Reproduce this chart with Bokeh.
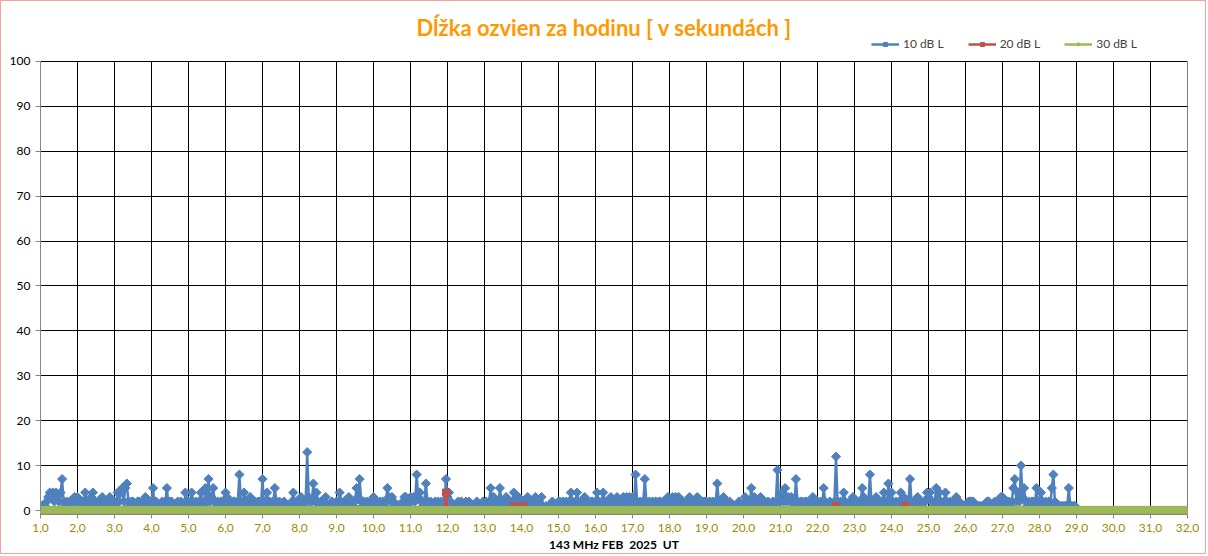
import math
from bokeh.plotting import figure
from bokeh.models import FixedTicker, Legend, LegendItem, Label, Range1d
from bokeh.embed import file_html
from bokeh.resources import INLINE

# ---------------- data ----------------
# hourly values (seconds) for the 10 dB L series, one string per day (24 hours),
# characters are hex digits (a=10, b=11, c=12, d=13)
blue_days = [
    "011123 434243 247212 122232",  # 1
    "312224 212342 121232 212312",  # 2
    "214245 256212 211221 213212",  # 3
    "251211 121251 221112 121142",  # 4
    "214212 124215 272352 121212",  # 5
    "431212 212821 421231 121221",  # 6
    "712412 125212 112111 124121",  # 7
    "23212d 322624 212123 111211",  # 8
    "214212 123121 253721 212121",  # 9
    "312121 212532 321010 123312",  # 10
    "323283 421262 121121 212127",  # 11
    "342111 121211 212111 121112",  # 12
    "121252 312152 123121 242131",  # 13
    "212131 212312 131010 112111",  # 14
    "221212 124212 421213 121221",  # 15
    "242124 212131 213211 323132",  # 16
    "318212 127212 121212 212123",  # 17
    "213231 321212 132121 312122",  # 18
    "212121 262123 121211 111211",  # 19
    "131215 231213 212121 121292",  # 20
    "242523 232172 122122 121312",  # 21
    "212152 112112 c21214 211213",  # 22
    "212125 321282 123121 242162",  # 23
    "421212 423212 721213 121224",  # 24
    "342125 242124 212121 312101",  # 25
    "102222 111111 112211 121213",  # 26
    "321221 257242 a35212 122152",  # 27
    "242121 215821 111111 151111",  # 28
]
blue_last = 0  # value at 29,0

# 20 dB L: non-zero hours (day, hour, value); all other hours are 0
red_day = [11, 13, 14, 22, 24]
red_hour = [23, 19, 1, 12, 9]
red_val = [4, 1, 1, 1, 1]

# 30 dB L: all hours 0
green_const = 0

first_day = 1
last_day = 32
x_ticks = list(range(1, 33))
y_ticks = list(range(0, 101, 10))
series_names = ["10 dB L", "20 dB L", "30 dB L"]
title_text = "D\u013a\u017eka ozvien za hodinu [ v sekund\u00e1ch ]"
x_title = "143 MHz FEB\u00a0 2025\u00a0 UT"

# ---------------- build series ----------------
blue_y = []
for d in blue_days:
    blue_y += [int(ch, 16) for ch in d.replace(" ", "")]
blue_y.append(blue_last)
blue_x = [first_day + i / 24 for i in range(len(blue_y))]

n_all = (last_day - first_day) * 24 + 1
all_x = [first_day + i / 24 for i in range(n_all)]
red_y = [0] * n_all
for d, h, v in zip(red_day, red_hour, red_val):
    red_y[(d - first_day) * 24 + h] = v
green_y = [green_const] * n_all

BLUE = "#4F81BD"
RED = "#C0504D"
GREEN = "#9BBB59"
FONT = "Lato"

Y_MIN = y_ticks[0]
Y_MAX = y_ticks[-1]
p = figure(width=1206, height=554, output_backend="svg", toolbar_location=None,
           title=None,
           x_range=Range1d(first_day, last_day), y_range=Range1d(-0.89, 112.47),
           min_border_left=39, min_border_right=20, min_border_top=4,
           min_border_bottom=41)
p.styles = {"border": "1px solid #F4A3A3"}
p.outline_line_color = None
p.background_fill_color = "white"
p.border_fill_color = "white"

# grid: horizontal lines via the grid, vertical lines limited to 0..100
p.xgrid.grid_line_color = None
p.ygrid.ticker = FixedTicker(ticks=y_ticks)
p.ygrid.grid_line_color = "black"
p.ygrid.grid_line_width = 1
p.segment(x0=x_ticks[1:], y0=[Y_MIN] * (len(x_ticks) - 1),
          x1=x_ticks[1:], y1=[Y_MAX] * (len(x_ticks) - 1),
          line_color="black", line_width=1, level="underlay")

# axes
p.xaxis.ticker = FixedTicker(ticks=x_ticks)
p.xaxis.major_label_overrides = {t: f"{t},0" for t in x_ticks}
p.xaxis.major_label_text_color = "#A08C00"
p.yaxis.ticker = FixedTicker(ticks=y_ticks)
p.yaxis.bounds = (Y_MIN, Y_MAX)
for ax in (p.xaxis, p.yaxis):
    ax.axis_line_color = "#868686"
    ax.major_tick_line_color = "#868686"
    ax.minor_tick_line_color = None
    ax.major_tick_in = 0
    ax.major_label_text_font = FONT
    ax.major_label_text_font_size = "12px"
p.yaxis.major_tick_out = 5
p.yaxis.major_label_standoff = 5
p.yaxis.major_label_text_color = "black"
p.xaxis.major_tick_out = 4
p.xaxis.major_label_standoff = 5
p.xaxis.axis_label = x_title
p.xaxis.axis_label_text_font = FONT
p.xaxis.axis_label_text_font_size = "12px"
p.xaxis.axis_label_text_font_style = "bold"
p.xaxis.axis_label_text_color = "black"
p.xaxis.axis_label_standoff = 2

# series
bl = p.line(blue_x, blue_y, line_color=BLUE, line_width=2.5)
bm = p.scatter(blue_x, blue_y, marker="square", angle=math.pi / 4, size=6.5,
               fill_color=BLUE, line_color=BLUE)
rl = p.line(all_x, red_y, line_color=RED, line_width=2.5)
rm = p.scatter(all_x, red_y, marker="square", size=7, fill_color=RED, line_color=RED)
gl = p.line(all_x, green_y, line_color=GREEN, line_width=2.5)
gm = p.scatter(all_x, green_y, marker="triangle", size=8, fill_color=GREEN, line_color=GREEN)

legend = Legend(items=[LegendItem(label=series_names[0], renderers=[bl, bm]),
                       LegendItem(label=series_names[1], renderers=[rl, rm]),
                       LegendItem(label=series_names[2], renderers=[gl, gm])],
                orientation="horizontal", location=(831, 463),
                background_fill_alpha=0, border_line_color=None,
                padding=0, margin=0, spacing=24, glyph_width=28, glyph_height=10,
                label_standoff=4, label_text_font=FONT, label_text_font_size="12px",
                label_height=12)
p.add_layout(legend)

p.add_layout(Label(x=16.24, y=107.57, text=title_text, text_align="center",
                   text_baseline="middle", text_font=FONT, text_font_size="22px",
                   text_font_style="bold", text_color="#FF9900"))

open("out.html", "w").write(file_html(p, INLINE))
